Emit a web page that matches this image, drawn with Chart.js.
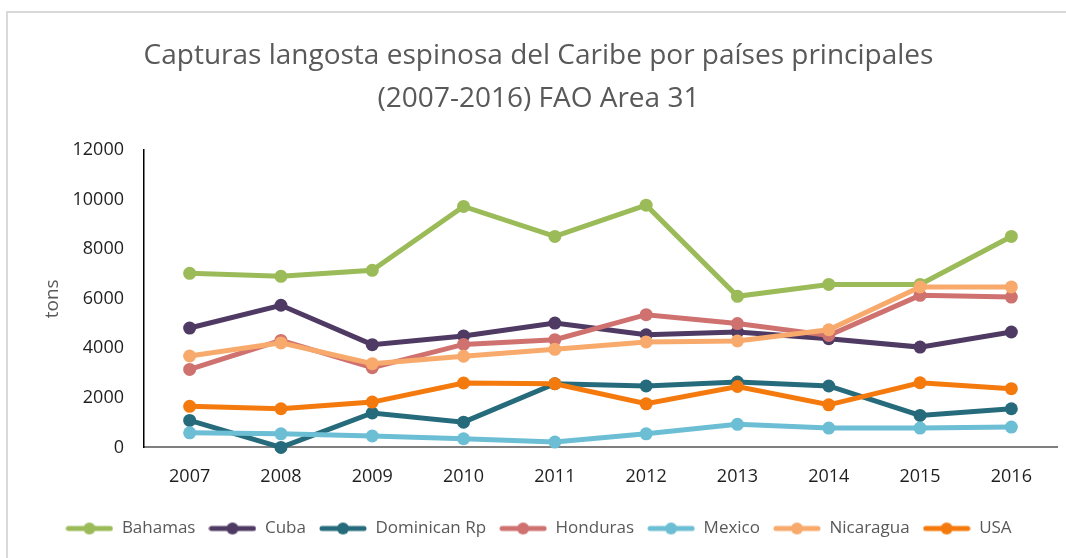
<!DOCTYPE html>
<html>
<head>
<meta charset="utf-8">
<script src="https://cdn.jsdelivr.net/npm/chart.js@4/dist/chart.umd.min.js"></script>
<style>
  html, body { margin: 0; padding: 0; background: #fff; overflow: hidden; }
  #frame { position: absolute; left: 6px; top: 11px; width: 1100px; height: 600px; border: 2px solid #d9d9d9; box-sizing: border-box; }
  #wrap { position: absolute; left: 0; top: 0; width: 1066px; height: 558px; }
</style>
</head>
<body>
<div id="frame"></div>
<div id="wrap"><canvas id="chart" width="1066" height="558"></canvas></div>
<script>
// data (tons)
const years = ["2007", "2008", "2009", "2010", "2011", "2012", "2013", "2014", "2015", "2016"];
const bahamas   = [7030, 6910, 7150, 9730, 8520, 9780, 6100, 6580, 6580, 8520];
const cuba      = [4820, 5740, 4150, 4500, 5020, 4550, 4660, 4390, 4050, 4660];
const dominican = [1090,    0, 1390, 1020, 2570, 2480, 2640, 2480, 1290, 1560];
const honduras  = [3150, 4320, 3220, 4160, 4350, 5360, 5000, 4520, 6140, 6070];
const mexico    = [ 590,  550,  460,  350,  215,  550,  930,  780,  780,  820];
const nicaragua = [3690, 4220, 3380, 3680, 3960, 4260, 4300, 4750, 6480, 6480];
const usa       = [1660, 1560, 1830, 2600, 2570, 1760, 2460, 1720, 2610, 2370];

const seriesNames = ["Bahamas", "Cuba", "Dominican Rp", "Honduras", "Mexico", "Nicaragua", "USA"];
const seriesData = [bahamas, cuba, dominican, honduras, mexico, nicaragua, usa];
const seriesColors = ["#9bbb59", "#4f3a63", "#266b7b", "#cf726f", "#6cbed4", "#f8aa6c", "#f47a0e"];

const yTicks = [0, 2000, 4000, 6000, 8000, 10000, 12000];

const FONT = "'Open Sans', sans-serif";

// little line + dot swatch for the legend
function swatch(color) {
  const c = document.createElement("canvas");
  c.width = 48; c.height = 14;
  const g = c.getContext("2d");
  g.strokeStyle = color;
  g.lineWidth = 5;
  g.lineCap = "round";
  g.beginPath(); g.moveTo(3, 7); g.lineTo(45, 7); g.stroke();
  g.fillStyle = color;
  g.beginPath(); g.arc(24, 7, 6, 0, Math.PI * 2); g.fill();
  return c;
}

const datasets = seriesNames.map((name, i) => ({
  label: name,
  data: seriesData[i],
  borderColor: seriesColors[i],
  backgroundColor: seriesColors[i],
  borderWidth: 5,
  pointRadius: 6.5,
  pointHoverRadius: 6.5,
  pointBorderWidth: 0,
  tension: 0,
  clip: false,
  order: seriesNames.length - i, // later series on top like Excel
}));

new Chart(document.getElementById("chart"), {
  type: "line",
  data: { labels: years, datasets },
  options: {
    responsive: false,
    animation: false,
    layout: { padding: { left: 20, right: 9, top: 0, bottom: 11 } },
    plugins: {
      title: {
        display: true,
        text: ["Capturas langosta espinosa del Caribe por países principales", "(2007-2016) FAO Area 31"],
        color: "#595959",
        font: { family: FONT, size: 28, weight: "normal", lineHeight: 1.54 },
        padding: { top: 34, bottom: 30 },
      },
      legend: {
        position: "bottom",
        labels: {
          usePointStyle: true,
          pointStyleWidth: 48,
          padding: 13,
          color: "#595959",
          font: { family: FONT, size: 17 },
          generateLabels: (chart) => chart.data.datasets.map((ds, i) => ({
            text: ds.label,
            pointStyle: swatch(ds.borderColor),
            fillStyle: ds.borderColor,
            strokeStyle: ds.borderColor,
            lineWidth: 0,
            fontColor: "#595959",
            datasetIndex: i,
          })),
        },
      },
      tooltip: { enabled: false },
    },
    scales: {
      x: {
        offset: true,
        grid: { display: false, drawTicks: false },
        border: { color: "#7f7f7f", width: 2 },
        ticks: { color: "#1f1f1f", font: { family: FONT, size: 18 }, padding: 19 },
      },
      y: {
        min: 0,
        max: 12000,
        afterBuildTicks: (scale) => { scale.ticks = yTicks.map(v => ({ value: v })); },
        afterFit: (scale) => { scale.width = 124; },
        grid: { display: false, drawTicks: false },
        border: { color: "#000", width: 1.5 },
        ticks: { color: "#1f1f1f", font: { family: FONT, size: 18 }, padding: 20, callback: (v) => String(v) },
        title: { display: true, text: "tons", color: "#595959", font: { family: FONT, size: 19 }, padding: { top: 21, bottom: 0 } },
      },
    },
  },
});
</script>
</body>
</html>
